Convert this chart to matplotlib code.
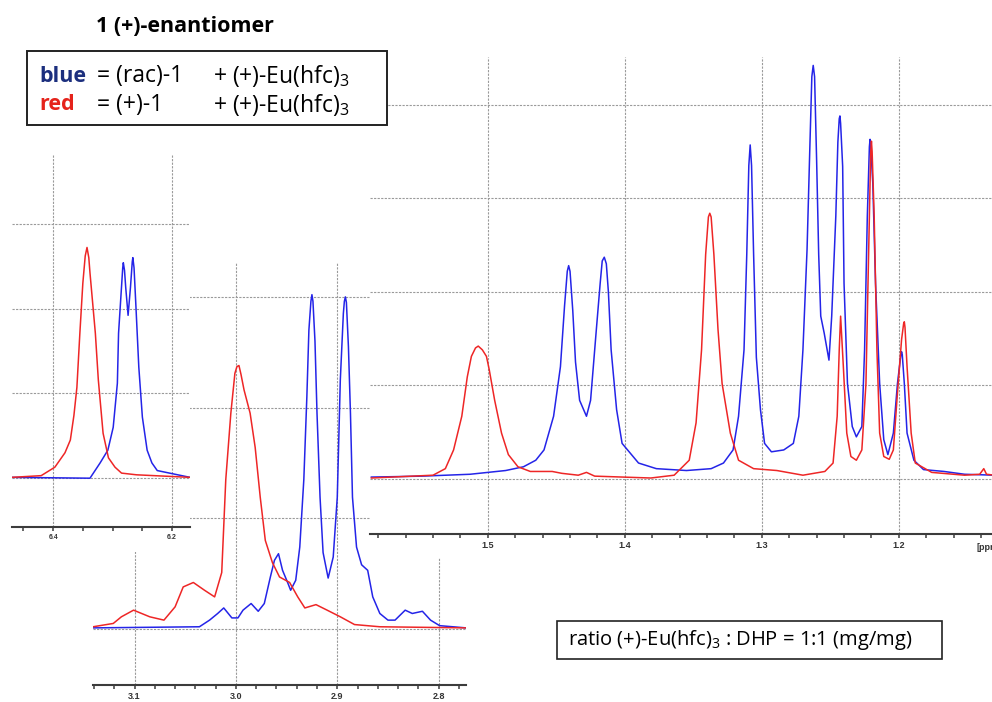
import matplotlib
matplotlib.use("Agg")
import matplotlib.pyplot as plt
from matplotlib.patches import Rectangle
from matplotlib.ticker import MultipleLocator

plt.rcParams['font.family'] = ['Open Sans', 'DejaVu Sans']
plt.rcParams['mathtext.fontset'] = 'custom'
plt.rcParams['mathtext.rm'] = 'Open Sans'
plt.rcParams['mathtext.bf'] = 'Open Sans:bold'

# ---- spectra (ppm, intensity in grid units) ----
# panel A: 6.2-6.45 ppm
a_red_ppm = [6.469, 6.420, 6.397, 6.380, 6.371, 6.365, 6.360, 6.355, 6.350, 6.346,
             6.343, 6.340, 6.338, 6.329, 6.324, 6.316, 6.307, 6.296, 6.285, 6.260,
             6.170]
a_red_int = [0.01, 0.03, 0.13, 0.30, 0.45, 0.74, 1.07, 1.71, 2.30, 2.62,
             2.72, 2.60, 2.42, 1.71, 1.16, 0.53, 0.24, 0.13, 0.06, 0.04,
             0.01]
a_blue_ppm = [6.469, 6.338, 6.321, 6.308, 6.299, 6.292, 6.290, 6.286, 6.283, 6.282,
              6.280, 6.278, 6.274, 6.270, 6.267, 6.266, 6.264, 6.261, 6.256, 6.250,
              6.242, 6.234, 6.225, 6.170]
a_blue_int = [0.01, 0.00, 0.18, 0.33, 0.60, 1.12, 1.71, 2.15, 2.48, 2.54,
              2.45, 2.25, 1.92, 2.25, 2.55, 2.60, 2.48, 2.05, 1.31, 0.72,
              0.33, 0.18, 0.09, 0.01]

# panel B: 2.77-3.14 ppm
b_red_ppm = [3.141, 3.121, 3.113, 3.101, 3.085, 3.071, 3.060, 3.052, 3.042, 3.031,
             3.021, 3.014, 3.010, 3.005, 3.001, 2.999, 2.997, 2.995, 2.992, 2.986,
             2.981, 2.976, 2.971, 2.964, 2.957, 2.947, 2.939, 2.932, 2.921, 2.910,
             2.897, 2.883, 2.858, 2.773]
b_red_int = [0.02, 0.05, 0.11, 0.17, 0.11, 0.08, 0.20, 0.38, 0.42, 0.35,
             0.29, 0.51, 1.35, 1.95, 2.31, 2.37, 2.38, 2.30, 2.16, 1.95,
             1.64, 1.19, 0.80, 0.60, 0.47, 0.42, 0.29, 0.19, 0.22, 0.17,
             0.11, 0.04, 0.02, 0.01]
b_blue_ppm = [3.141, 3.036, 3.026, 3.018, 3.012, 3.004, 2.998, 2.993, 2.985, 2.978,
              2.972, 2.966, 2.962, 2.958, 2.954, 2.949, 2.946, 2.941, 2.937, 2.933,
              2.930, 2.928, 2.926, 2.925, 2.924, 2.922, 2.920, 2.917, 2.914, 2.909,
              2.904, 2.900, 2.897, 2.894, 2.893, 2.892, 2.891, 2.889, 2.887, 2.885,
              2.881, 2.876, 2.870, 2.865, 2.858, 2.850, 2.843, 2.833, 2.826, 2.816,
              2.808, 2.799, 2.773]
b_blue_int = [0.01, 0.02, 0.08, 0.14, 0.19, 0.10, 0.10, 0.17, 0.23, 0.16,
              0.23, 0.47, 0.62, 0.68, 0.53, 0.42, 0.35, 0.44, 0.74, 1.35,
              2.10, 2.70, 2.96, 3.02, 2.96, 2.60, 1.95, 1.19, 0.69, 0.46,
              0.65, 1.19, 2.25, 2.85, 2.96, 3.00, 2.95, 2.55, 1.95, 1.19,
              0.74, 0.58, 0.53, 0.29, 0.14, 0.08, 0.08, 0.17, 0.14, 0.16,
              0.08, 0.03, 0.01]

# panel C: 1.13-1.59 ppm
c_red_ppm = [1.585, 1.540, 1.531, 1.525, 1.519, 1.515, 1.512, 1.509, 1.507, 1.504,
             1.501, 1.499, 1.495, 1.490, 1.485, 1.478, 1.469, 1.453, 1.446, 1.434,
             1.428, 1.422, 1.381, 1.364, 1.353, 1.348, 1.344, 1.341, 1.339, 1.338,
             1.337, 1.335, 1.332, 1.329, 1.323, 1.317, 1.306, 1.289, 1.270, 1.254,
             1.248, 1.245, 1.2435, 1.2425, 1.2405, 1.238, 1.235, 1.231, 1.227, 1.224,
             1.222, 1.221, 1.2205, 1.220, 1.2195, 1.218, 1.216, 1.214, 1.211, 1.207,
             1.204, 1.201, 1.198, 1.1965, 1.196, 1.1955, 1.194, 1.191, 1.188, 1.176,
             1.152, 1.141, 1.138, 1.136, 1.130]
c_red_int = [0.01, 0.04, 0.11, 0.31, 0.67, 1.09, 1.31, 1.40, 1.42, 1.38,
             1.31, 1.17, 0.84, 0.49, 0.26, 0.13, 0.08, 0.08, 0.06, 0.04,
             0.07, 0.03, 0.01, 0.04, 0.20, 0.60, 1.38, 2.40, 2.80, 2.84,
             2.80, 2.40, 1.60, 1.02, 0.49, 0.20, 0.11, 0.09, 0.04, 0.08,
             0.17, 0.67, 1.38, 1.74, 1.20, 0.49, 0.24, 0.20, 0.31, 1.02,
             2.45, 3.16, 3.50, 3.61, 3.50, 2.81, 1.38, 0.49, 0.24, 0.21,
             0.31, 0.92, 1.49, 1.66, 1.68, 1.62, 1.20, 0.49, 0.17, 0.07,
             0.04, 0.05, 0.11, 0.05, 0.04]
c_blue_ppm = [1.585, 1.548, 1.513, 1.487, 1.474, 1.465, 1.459, 1.452, 1.447, 1.444,
              1.442, 1.441, 1.440, 1.438, 1.436, 1.433, 1.428, 1.425, 1.421, 1.418,
              1.4165, 1.415, 1.4135, 1.412, 1.410, 1.406, 1.402, 1.390, 1.377, 1.355,
              1.337, 1.328, 1.321, 1.317, 1.313, 1.311, 1.3095, 1.3085, 1.3075, 1.306,
              1.304, 1.301, 1.298, 1.293, 1.284, 1.277, 1.273, 1.270, 1.267, 1.265,
              1.2635, 1.2625, 1.2615, 1.260, 1.2585, 1.257, 1.2545, 1.251, 1.249, 1.246,
              1.2445, 1.2435, 1.243, 1.2425, 1.241, 1.240, 1.2375, 1.234, 1.231, 1.227,
              1.225, 1.223, 1.2215, 1.221, 1.2205, 1.219, 1.217, 1.214, 1.211, 1.208,
              1.204, 1.201, 1.1985, 1.198, 1.1975, 1.196, 1.194, 1.189, 1.182, 1.167,
              1.152, 1.130]
c_blue_int = [0.02, 0.03, 0.05, 0.09, 0.13, 0.20, 0.31, 0.67, 1.20, 1.85,
              2.22, 2.28, 2.22, 1.80, 1.25, 0.84, 0.67, 0.84, 1.56, 2.09,
              2.33, 2.37, 2.30, 2.00, 1.38, 0.74, 0.38, 0.17, 0.11, 0.09,
              0.11, 0.17, 0.31, 0.67, 1.38, 2.40, 3.35, 3.57, 3.35, 2.40,
              1.30, 0.74, 0.38, 0.29, 0.31, 0.38, 0.67, 1.38, 2.45, 3.52,
              4.30, 4.42, 4.30, 3.40, 2.40, 1.74, 1.56, 1.27, 1.74, 2.81,
              3.60, 3.85, 3.88, 3.80, 3.34, 2.09, 1.02, 0.56, 0.45, 0.56,
              1.38, 2.81, 3.55, 3.63, 3.55, 3.16, 2.09, 1.02, 0.42, 0.26,
              0.49, 1.02, 1.33, 1.36, 1.33, 1.02, 0.49, 0.20, 0.10, 0.08,
              0.05, 0.04]

title = "1 (+)-enantiomer"
legend_rows = [("blue", "= (rac)-1", "+ (+)-Eu(hfc)$_3$", '#1c2f7e'),
               ("red", "= (+)-1", "+ (+)-Eu(hfc)$_3$", '#e5231b')]
ratio_text = "ratio (+)-Eu(hfc)$_3$ : DHP = 1:1 (mg/mg)"

W, H = 992, 702
BLUE = '#2424e8'
RED = '#ee2626'
GRID = '#9a9a9a'
AXIS = '#3c3c3c'

fig = plt.figure(figsize=(W / 100, H / 100), dpi=100)


def fx(x):
    return x / W


def fy(y):
    return 1 - y / H


def panel(box, xlim, ylim, spine_y, hgrid, major, labels, minor, lsize, z):
    left, top, right, bottom = box
    ax = fig.add_axes([fx(left), fy(bottom), (right - left) / W, (bottom - top) / H])
    ax.set_zorder(z)
    ax.set_xlim(*xlim)
    ax.set_ylim(*ylim)
    for s in ['top', 'left', 'right']:
        ax.spines[s].set_visible(False)
    ax.spines['bottom'].set_position(('data', spine_y))
    ax.spines['bottom'].set_color(AXIS)
    ax.spines['bottom'].set_linewidth(1.5)
    ax.set_yticks([])
    ax.set_xticks(major, labels, fontsize=lsize, fontweight='bold',
                  family='Liberation Sans', color='#333333')
    ax.xaxis.set_minor_locator(MultipleLocator(minor))
    ax.tick_params(axis='x', which='both', direction='out', length=3, width=1.1,
                   color=AXIS, pad=2)
    ax.hlines(hgrid, xlim[0], xlim[1], colors=GRID, linestyles=(0, (2, 1.2)),
              linewidth=0.8, zorder=0.5)
    ax.vlines(major, spine_y, ylim[1], colors=GRID, linestyles=(0, (2, 1.2)),
              linewidth=0.8, zorder=0.5)
    return ax


# middle panel (underneath)
axB = panel((93, 262, 466, 685), (3.141, 2.773), (-0.506, 3.315), -0.506,
            [0, 1, 2, 3], [3.1, 3.0, 2.9, 2.8], ['3.1', '3.0', '2.9', '2.8'],
            0.02, 6.5, 1)
axB.plot(b_blue_ppm, b_blue_int, color=BLUE, lw=1.1)
axB.plot(b_red_ppm, b_red_int, color=RED, lw=1.1)

# left panel
axA = panel((12, 155, 190, 552), (6.469, 6.170), (-0.87, 3.81), -0.58,
            [0, 1, 2, 3], [6.4, 6.2], ['6.4', '6.2'], 0.05, 5, 3)
axA.plot(a_blue_ppm, a_blue_int, color=BLUE, lw=1.1)
axA.plot(a_red_ppm, a_red_int, color=RED, lw=1.1)

# right panel
axC = panel((370, 57, 992, 558), (1.586, 1.132), (-0.845, 4.51), -0.59,
            [0, 1, 2, 3, 4], [1.5, 1.4, 1.3, 1.2], ['1.5', '1.4', '1.3', '1.2'],
            0.02, 6.5, 3)
axC.plot(c_blue_ppm, c_blue_int, color=BLUE, lw=1.1)
axC.plot(c_red_ppm, c_red_int, color=RED, lw=1.1)
axC.text(1.1435, -0.68, "[ppm]", fontsize=6.5, fontweight='bold', family='Liberation Sans',
         color='#333333', ha='left', va='top', clip_on=False)

# title and legend box
fig.text(fx(96), fy(26), title, fontsize=15.5, fontweight='bold', va='center', zorder=20)
fig.add_artist(Rectangle((fx(27), fy(125)), (387 - 27) / W, (125 - 51) / H,
                         transform=fig.transFigure, facecolor='white',
                         edgecolor='#222222', linewidth=1.4, zorder=10))
for i, (name, lhs, rhs, col) in enumerate(legend_rows):
    yy = fy(76 + i * 29)
    fig.text(fx(39), yy, name, fontsize=15.5, fontweight='bold', color=col,
             va='center', zorder=20)
    fig.text(fx(97), yy, lhs, fontsize=16.5, va='center', zorder=20)
    fig.text(fx(213), yy, rhs, fontsize=16.5, va='center', zorder=20)

fig.add_artist(Rectangle((fx(557), fy(659)), (942 - 557) / W, (659 - 621) / H,
                         transform=fig.transFigure, facecolor='white',
                         edgecolor='#222222', linewidth=1.2, zorder=10))
fig.text(fx(568), fy(640), ratio_text, fontsize=14.5, va='center', zorder=20)

fig.savefig("out.png", dpi=100)
